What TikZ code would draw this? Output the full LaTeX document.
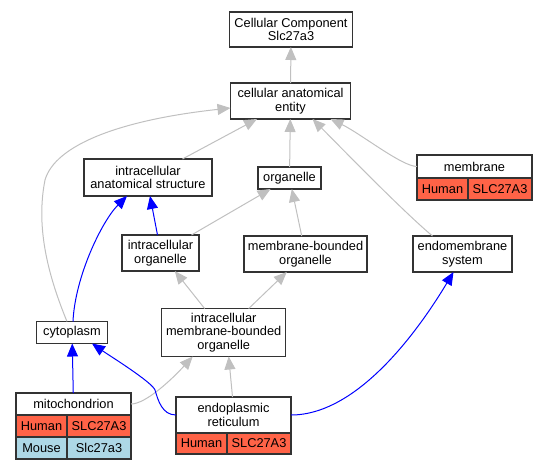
\documentclass[tikz,border=0pt]{standalone}
\usepackage{fontspec}
\setmainfont{Liberation Sans}
\usetikzlibrary{arrows.meta}
\definecolor{human}{HTML}{FF6347}
\definecolor{mouse}{HTML}{ADD8E6}
\definecolor{isagray}{HTML}{C0C0C0}

\begin{document}
\begin{tikzpicture}[x=1pt,y=-1pt,
  term/.style={draw=black!80,line width=1.2pt,fill=white,align=center,inner sep=0pt,outer sep=0pt,
    font=\fontsize{12.8}{13.5}\selectfont},
  cell/.style={term,anchor=north west,minimum height=22},
  isa/.style={draw=isagray,line width=1pt,-{Triangle[length=13pt,width=11pt]}},
  partof/.style={isa,draw=blue}]
\useasboundingbox (0,0) rectangle (548,469);
\node[term,minimum width=123,minimum height=35] (cc) at (291,29.5) {Cellular Component\\Slc27a3};
\node[term,minimum width=120,minimum height=36] (cae) at (290.5,101) {cellular anatomical\\entity};
\node[term,minimum width=128,minimum height=37] (ias) at (148,177.5) {intracellular\\anatomical structure};
\node[term,minimum width=63,minimum height=22] (org) at (289.5,178) {organelle};
\node[term,minimum width=115,minimum height=23] (mem) at (474.5,166.5) {membrane};
\node[term,minimum width=99,minimum height=36] (endo) at (462.5,254) {endomembrane\\system};
\node[term,minimum width=77,minimum height=36] (io) at (160.5,253) {intracellular\\organelle};
\node[term,minimum width=123,minimum height=36] (mbo) at (305.5,254) {membrane-bounded\\organelle};
\node[term,minimum width=71,minimum height=22] (cyto) at (72,332.5) {cytoplasm};
\node[term,minimum width=124,minimum height=48] (imbo) at (223.7,332.5) {intracellular\\membrane-bounded\\organelle};
\node[term,minimum width=115,minimum height=22] (mito) at (73.5,404) {mitochondrion};
\node[term,minimum width=115,minimum height=36] (er) at (233.5,415) {endoplasmic\\reticulum};
\node[cell,fill=human,minimum width=51] (memHu) at (mem.south west) {Human};
\node[cell,fill=human,minimum width=64] (memHg) at (memHu.north east) {SLC27A3};
\node[cell,fill=human,minimum width=51] (mitoHu) at (mito.south west) {Human};
\node[cell,fill=human,minimum width=64] (mitoHg) at (mitoHu.north east) {SLC27A3};
\node[cell,fill=mouse,minimum width=51] (mitoMo) at (mitoHu.south west) {Mouse};
\node[cell,fill=mouse,minimum width=64] (mitoMg) at (mitoMo.north east) {Slc27a3};
\node[cell,fill=human,minimum width=51,minimum height=21] (erHu) at (er.south west) {Human};
\node[cell,fill=human,minimum width=64,minimum height=21] (erHg) at (erHu.north east) {SLC27A3};
\coordinate (erbend) at (155,390);
\draw[isa] (cae)--(cc);
\draw[isa] (ias)--(cae);
\draw[isa] (org)--(cae);
\draw[isa] (mem.west) .. controls +(-15,0) and +(30,14.5) .. ([xshift=40]cae.south);
\draw[isa] ([xshift=-30]endo.north) .. controls +(-30,-25) and +(25,25) .. ([xshift=22]cae.south);
\draw[isa] ([xshift=-5]cyto.north) .. controls (50,280) and (35,230) .. (45,180)
  .. controls (55,145) and (120,120) .. ([yshift=-7]cae.west);
\draw[isa] (io)--(org);
\draw[isa] (mbo)--(org);
\draw[isa] (imbo)--(io);
\draw[isa] (imbo)--(mbo);
\draw[isa] (mito.east) .. controls +(15,0) and +(-20,22) .. ([xshift=-31]imbo.south);
\draw[isa] ([xshift=-1]er.north)--([xshift=5]imbo.south);
\draw[partof] ([xshift=1]cyto.north) .. controls +(2,-45) and +(-25,25) .. ([xshift=-21]ias.south);
\draw[partof] ([xshift=-3]io.north)--([xshift=2]ias.south);
\draw[partof] (mito)--(cyto);
\draw[partof] (er.west) .. controls +(-14,0) and +(3,10) .. (erbend)
  .. controls +(-3,-8) and +(16.4,11.4) .. ([xshift=20]cyto.south);
\draw[partof] (er.east) .. controls +(70,0) and +(-30,50) .. ([xshift=-9]endo.south);
\end{tikzpicture}
\end{document}
